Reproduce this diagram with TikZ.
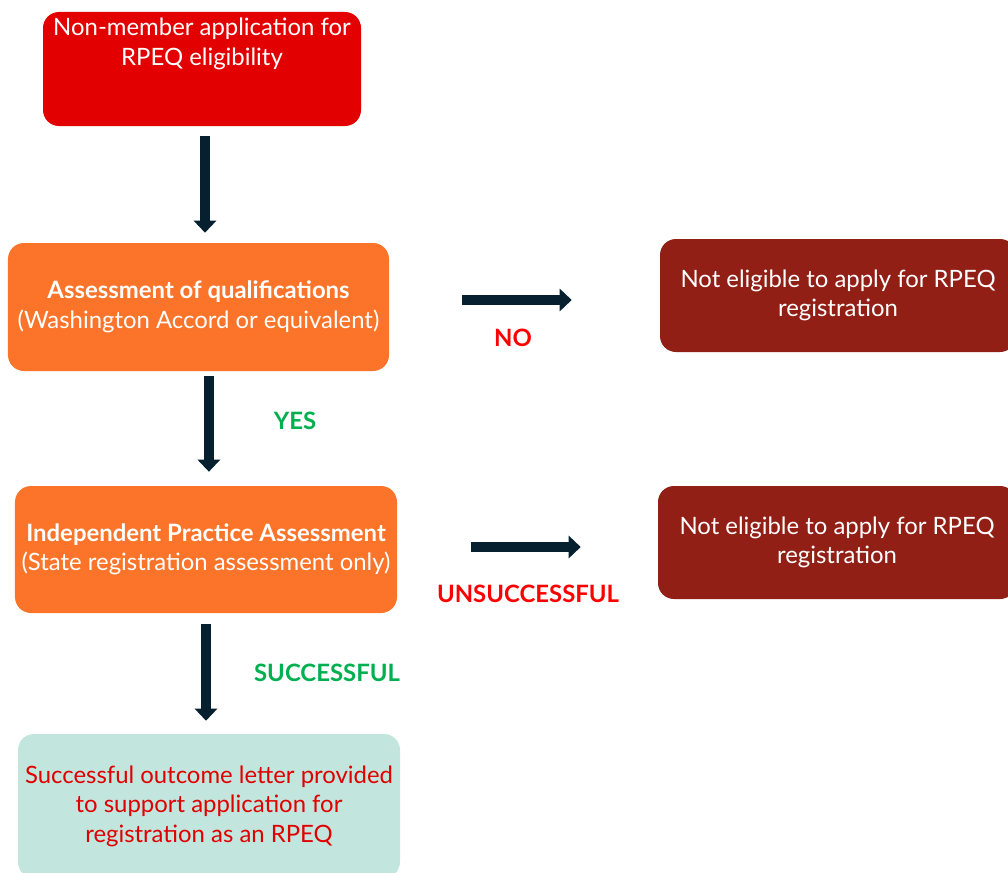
\documentclass[tikz,border=0pt]{standalone}
\usepackage{fontspec}
\setmainfont{Lato}
\usetikzlibrary{arrows.meta, positioning, calc}

\definecolor{topRed}{HTML}{E30000}
\definecolor{stepOrange}{HTML}{FB7429}
\definecolor{failRed}{HTML}{921F16}
\definecolor{okTeal}{HTML}{C2E5DD}
\definecolor{arrowNavy}{HTML}{06202F}
\definecolor{yesGreen}{HTML}{00B050}
\definecolor{noRed}{HTML}{FF0000}
\definecolor{textRed}{HTML}{E00000}

\tikzset{
  flowBox/.style={rounded corners=0.4cm, align=center, inner sep=0pt,
    font=\fontsize{17}{21}\selectfont},
  flowArrow/.style={-{Triangle[width=0.55cm, length=0.3cm]}, line width=0.27cm, arrowNavy},
  % etiquetas das setas
  answerLabel/.style={font=\fontsize{17}{20}\selectfont\bfseries}
}

\begin{document}
\begin{tikzpicture}
  \useasboundingbox (0,0) rectangle (25.2,-21.825);

  %% --- CAIXAS ---
  \node[flowBox, fill=topRed, minimum width=7.95cm, minimum height=2.85cm] (start) at (5.05,-1.725) {};
  \node[flowBox, white, anchor=north, below=0.15cm of start.north] (startText)
    {Non-member application for\\RPEQ eligibility};

  \node[flowBox, fill=stepOrange, text=white, minimum width=9.525cm, minimum height=3.2cm] (quals) at (4.9625,-7.675)
    {\textbf{Assessment of qualifications}\\(Washington Accord or equivalent)};

  \node[flowBox, fill=failRed, text=white, minimum width=8.9cm, minimum height=2.825cm] (notEligA) at (20.95,-7.3875)
    {Not eligible to apply for RPEQ\\registration};

  \node[flowBox, fill=stepOrange, text=white, minimum width=9.55cm, minimum height=3.175cm] (practice) at (5.15,-13.7375)
    {\textbf{Independent Practice Assessment}\\(State registration assessment only)};

  \node[flowBox, fill=failRed, text=white, minimum width=8.95cm, minimum height=2.825cm] (notEligB) at (20.925,-13.5625)
    {Not eligible to apply for RPEQ\\registration};

  \node[flowBox, fill=okTeal, text=textRed, minimum width=9.55cm, minimum height=3.6cm] (outcome) at (5.225,-20.15)
    {Successful outcome letter provided\\to support application for\\registration as an RPEQ};

  %% --- SETAS ---
  \draw[flowArrow, shorten <=0.25cm, shorten >=0.25cm]
    ([xshift=0.075cm]start.south) -- ([xshift=0.075cm]start.south |- quals.north);
  \draw[flowArrow, shorten <=0.125cm, shorten >=0.35cm]
    ([xshift=0.26cm]quals.south) -- ([xshift=0.26cm]quals.south |- practice.north);
  \draw[flowArrow, shorten <=0.275cm, shorten >=0.325cm]
    (practice.south) -- (practice.south |- outcome.north);

  \draw[flowArrow, shorten <=1.825cm, shorten >=2.2cm]
    ([yshift=0.175cm]quals.east) -- ([yshift=0.175cm]quals.east -| notEligA.west);
  \draw[flowArrow, shorten <=1.85cm, shorten >=1.925cm]
    ([yshift=0.0625cm]practice.east) -- ([yshift=0.0625cm]practice.east -| notEligB.west);

  %% --- RÓTULOS ---
  \node[answerLabel, noRed] (noLbl) at (12.825,-8.45) {NO};
  \node[answerLabel, yesGreen] (yesLbl) at (7.375,-10.525) {YES};
  \node[answerLabel, noRed] (failLbl) at (13.2,-14.85) {UNSUCCESSFUL};
  \node[answerLabel, yesGreen] (passLbl) at (8.175,-16.825) {SUCCESSFUL};

\end{tikzpicture}
\end{document}
